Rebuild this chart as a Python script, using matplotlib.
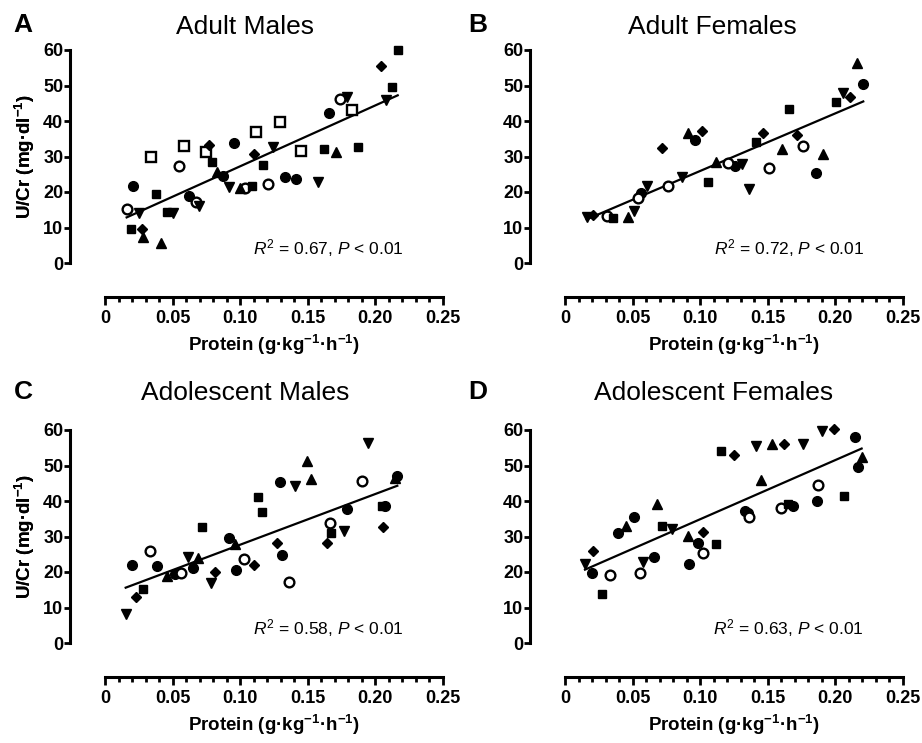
import numpy as np
import matplotlib
matplotlib.use("Agg")
import matplotlib.pyplot as plt
from matplotlib.ticker import MultipleLocator, FixedLocator

plt.rcParams['font.family'] = ['Liberation Sans', 'DejaVu Sans']
plt.rcParams['mathtext.fontset'] = 'custom'
plt.rcParams['mathtext.rm'] = 'Liberation Sans'
plt.rcParams['mathtext.it'] = 'Liberation Sans:italic'
plt.rcParams['mathtext.bf'] = 'Liberation Sans:bold'

# symbol codes: o filled circle, c open circle, s filled square, q open square,
# ^ up triangle, v down triangle, D diamond

# Adult males
a_x = [0.2165, 0.204, 0.2125, 0.1738, 0.1787, 0.2076, 0.166, 0.183, 0.1294, 0.112,
       0.0956, 0.0772, 0.0584, 0.034, 0.0547, 0.0747, 0.0791, 0.1245, 0.1105, 0.1166,
       0.1452, 0.162, 0.1708, 0.1869, 0.0831, 0.0875, 0.0917, 0.0998, 0.1038, 0.1085,
       0.1203, 0.1331, 0.1413, 0.1578, 0.021, 0.0377, 0.0624, 0.0671, 0.0698, 0.0456,
       0.05, 0.016, 0.0254, 0.019, 0.0274, 0.0283, 0.0414]
a_y = [60.0, 55.6, 49.7, 46.1, 46.7, 45.9, 42.2, 43.0, 39.8, 36.8,
       33.7, 33.1, 33.0, 29.9, 27.4, 31.3, 28.4, 32.6, 30.6, 27.6,
       31.5, 32.0, 31.2, 32.7, 25.6, 24.6, 21.5, 21.2, 21.0, 21.7,
       22.3, 24.1, 23.7, 22.9, 21.8, 19.4, 18.9, 17.2, 16.1, 14.5,
       14.0, 15.1, 14.0, 9.6, 9.6, 7.4, 5.5]
a_sym = ['s', 'D', 's', 'c', 'v', 'v', 'o', 'q', 'q', 'q',
         'o', 'D', 'q', 'q', 'c', 'q', 's', 'v', 'D', 's',
         'q', 's', '^', 's', '^', 'o', 'v', '^', 'c', 's',
         'c', 'o', 'o', 'v', 'o', 's', 'o', 'c', 'v', 's',
         'v', 'c', 'v', 's', 'D', '^', '^']

# Adult females
b_x = [0.2157, 0.2206, 0.2059, 0.2108, 0.2002, 0.1659, 0.0907, 0.1016, 0.0962, 0.0715,
       0.1462, 0.141, 0.1713, 0.1763, 0.1603, 0.191, 0.1857, 0.1511, 0.1363, 0.1115,
       0.1208, 0.1257, 0.1307, 0.106, 0.0863, 0.0764, 0.0609, 0.056, 0.0542, 0.051,
       0.0468, 0.0357, 0.0308, 0.0209, 0.016]
b_y = [56.4, 50.4, 47.8, 46.8, 45.4, 43.4, 36.5, 37.2, 34.6, 32.3,
       36.7, 34.2, 36.1, 33.0, 32.0, 30.7, 25.3, 26.7, 20.8, 28.5,
       28.1, 27.3, 27.9, 22.9, 24.3, 21.7, 21.7, 19.8, 18.2, 14.7,
       13.0, 12.6, 13.2, 13.5, 13.0]
b_sym = ['^', 'o', 'v', 'D', 's', 's', '^', 'D', 'o', 'D',
         'D', 's', 'D', 'c', '^', '^', 'o', 'c', 'v', '^',
         'c', 'o', 'v', 's', 'v', 'c', 'v', 'o', 'c', 'v',
         '^', 's', 'c', 'D', 'v']

# Adolescent males
c_x = [0.1943, 0.1496, 0.1524, 0.1294, 0.1405, 0.1899, 0.2162, 0.2145, 0.1134, 0.1164,
       0.1788, 0.2049, 0.2074, 0.2054, 0.1664, 0.1671, 0.177, 0.1644, 0.072, 0.0917,
       0.0962, 0.1275, 0.1309, 0.1028, 0.1102, 0.0967, 0.0814, 0.0781, 0.1361, 0.0333,
       0.0197, 0.0387, 0.0611, 0.0685, 0.0653, 0.0562, 0.0518, 0.0456, 0.0284, 0.0227,
       0.0153]
c_y = [56.4, 51.3, 46.1, 45.4, 44.3, 45.6, 47.1, 46.4, 41.0, 36.8,
       37.7, 38.6, 38.6, 32.8, 33.9, 30.9, 31.5, 28.1, 32.8, 29.5,
       27.9, 28.1, 24.8, 23.6, 22.0, 20.6, 19.9, 16.8, 17.1, 25.9,
       21.9, 21.8, 24.3, 24.0, 21.0, 19.8, 19.4, 19.0, 15.2, 13.0,
       8.2]
c_sym = ['v', '^', '^', 'o', 'v', 'c', 'o', '^', 's', 's',
         'o', 's', 'o', 'D', 'c', 's', 'v', 'D', 's', 'o',
         '^', 'D', 'o', 'c', 'D', 'o', 'D', 'v', 'c', 'c',
         'o', 'o', 'v', '^', 'o', 'c', 'o', '^', 's', 'D',
         'v']

# Adolescent females
d_x = [0.1903, 0.199, 0.2145, 0.2194, 0.2165, 0.1152, 0.125, 0.1413, 0.1529, 0.1622,
       0.1758, 0.145, 0.1874, 0.2066, 0.1862, 0.1652, 0.1684, 0.1598, 0.1331, 0.1363,
       0.1356, 0.0678, 0.051, 0.0449, 0.0394, 0.072, 0.0794, 0.0912, 0.1023, 0.0981,
       0.1115, 0.1023, 0.0917, 0.0209, 0.0148, 0.0197, 0.0333, 0.0276, 0.0575, 0.0658,
       0.0555]
d_y = [59.8, 60.2, 58.1, 52.5, 49.7, 54.1, 53.0, 55.6, 56.0, 56.0,
       56.1, 45.9, 44.5, 41.4, 40.1, 39.1, 38.6, 37.9, 37.3, 35.4,
       36.7, 39.2, 35.4, 33.0, 30.9, 33.0, 32.0, 30.2, 31.2, 28.3,
       27.9, 25.3, 22.3, 25.9, 22.3, 19.6, 19.2, 13.7, 22.9, 24.3,
       19.6]
d_sym = ['v', 'D', 'o', '^', 'o', 's', 'D', 'v', '^', 'D',
         'v', '^', 'c', 's', 'o', 's', 'o', 'c', 'o', 'c',
         'o', '^', 'o', '^', 'o', 's', 'v', '^', 'D', 'o',
         's', 'c', 'o', 'D', 'v', 'o', 'c', 's', 'v', 'o',
         'c']

# regression lines (slope, intercept) and stats
fits = [(171.5, 10.1), (162.3, 9.7), (142.9, 13.4), (166.7, 18.2)]
r2_vals = ['0.67', '0.72', '0.58', '0.63']
titles = ['Adult Males', 'Adult Females', 'Adolescent Males', 'Adolescent Females']
letters = ['A', 'B', 'C', 'D']

x_ticks = [0, 0.05, 0.10, 0.15, 0.20, 0.25]
x_ticklabels = ['0', '0.05', '0.10', '0.15', '0.20', '0.25']
y_ticks = [0, 10, 20, 30, 40, 50, 60]

styles = {
    'o': dict(marker='o', ms=7, mfc='black', mec='black'),
    'c': dict(marker='o', ms=7, mfc='white', mec='black', mew=1.7),
    's': dict(marker='s', ms=6.2, mfc='black', mec='black'),
    'q': dict(marker='s', ms=7.2, mfc='white', mec='black', mew=1.7),
    '^': dict(marker='^', ms=7, mfc='black', mec='black'),
    'v': dict(marker='v', ms=7, mfc='black', mec='black'),
    'D': dict(marker='D', ms=5, mfc='black', mec='black'),
}

W, H = 922, 743
fig = plt.figure(figsize=(W / 100, H / 100), dpi=100)

# data-area boxes in pixels: (left, right, top, bottom)
boxes = [(105, 443, 50, 263), (565, 903, 50, 263),
         (105, 443, 430, 643), (565, 903, 430, 643)]
title_pos = [(245, 27), (712, 27), (245, 393), (714, 393)]
letter_pos = [(23, 25), (478, 25), (23, 392), (478, 392)]

panels = [(a_x, a_y, a_sym), (b_x, b_y, b_sym), (c_x, c_y, c_sym), (d_x, d_y, d_sym)]

for i, (px, py, psym) in enumerate(panels):
    l, r, t, b = boxes[i]
    ax = fig.add_axes([l / W, 1 - b / H, (r - l) / W, (b - t) / H])
    x = np.array(px)
    y = np.array(py)
    sym = np.array(psym)

    slope, icpt = fits[i]
    xx = np.array([x.min(), x.max()])
    ax.plot(xx, icpt + slope * xx, color='black', lw=1.6, zorder=2, clip_on=False)

    for code, st in styles.items():
        m = sym == code
        if m.any():
            ax.plot(x[m], y[m], ls='none', zorder=3, clip_on=False, **st)

    ax.set_xlim(0, 0.25)
    ax.set_ylim(0, 60)
    for s in ['top', 'right']:
        ax.spines[s].set_visible(False)
    ax.spines['left'].set_position(('outward', 25))
    ax.spines['bottom'].set_position(('outward', 24.5))
    ax.spines['left'].set_linewidth(2.2)
    ax.spines['bottom'].set_linewidth(2.2)
    ax.spines['left'].set_bounds(0, 60)
    ax.spines['bottom'].set_bounds(0, 0.25)

    ax.xaxis.set_major_locator(FixedLocator(x_ticks))
    ax.xaxis.set_minor_locator(MultipleLocator(0.01))
    ax.set_xticklabels(x_ticklabels, fontweight='bold', fontsize=13)
    ax.set_yticks(y_ticks)
    ax.set_yticklabels([str(v) for v in y_ticks], fontweight='bold', fontsize=13)
    ax.tick_params(axis='x', which='major', direction='out', length=6, width=2, pad=3)
    ax.tick_params(axis='x', which='minor', direction='out', length=3.5, width=2)
    ax.tick_params(axis='y', which='major', direction='out', length=4, width=2, pad=1)

    ax.text(0.221, 4.3, r'$R^2$ = ' + r2_vals[i] + r', $P$ < 0.01',
            ha='right', va='center', fontsize=12.5)

    fig.text(25 / W, 1 - (t + b) / 2 / H, 'U/Cr (mg·dl$^{\\mathbf{-1}}$)',
             rotation=90, ha='center', va='center', fontsize=13.5, fontweight='bold')
    fig.text((l + r) / 2 / W, 1 - (b + 82) / H, 'Protein (g·kg$^{\\mathbf{-1}}$·h$^{\\mathbf{-1}}$)',
             ha='center', va='center', fontsize=13.5, fontweight='bold')

    tx, ty = title_pos[i]
    fig.text(tx / W, 1 - ty / H, titles[i], ha='center', va='center', fontsize=19)
    lx, ly = letter_pos[i]
    fig.text(lx / W, 1 - ly / H, letters[i], ha='center', va='center',
             fontsize=19, fontweight='bold')

fig.savefig('out.png', dpi=100, facecolor='white')
